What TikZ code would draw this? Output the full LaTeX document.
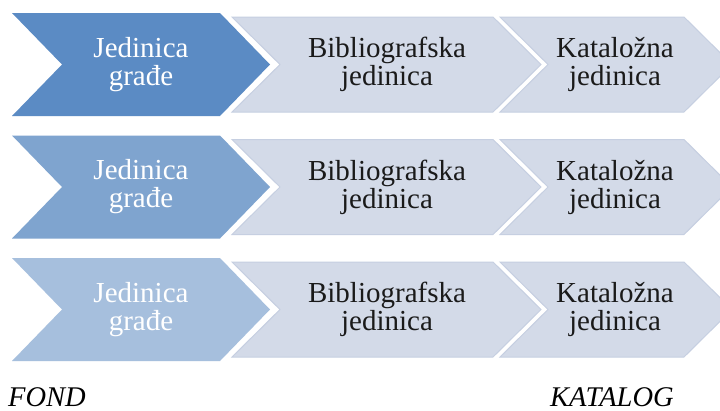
\documentclass[tikz,border=0pt]{standalone}
\usepackage{fontspec}
\setmainfont{Liberation Serif}
\definecolor{darkA}{HTML}{5B8BC4}
\definecolor{darkB}{HTML}{7FA4CF}
\definecolor{darkC}{HTML}{A6BFDD}
\definecolor{lightfill}{HTML}{D3DAE8}
\definecolor{lightline}{HTML}{C6CFE1}
\definecolor{txt}{HTML}{1A1A1A}
\tikzset{
  lightchev/.style={fill=lightfill, draw=lightline, line width=1pt, line join=miter},
  wtext/.style={text=white, align=center, font=\fontsize{29}{28}\selectfont, inner sep=0pt},
  btext/.style={text=txt, align=center, font=\fontsize{29}{28}\selectfont, inner sep=0pt},
  bottomlabel/.style={text=black, anchor=base west, text depth=0pt, font=\fontsize{28.5}{28.5}\selectfont\itshape, inner sep=0pt}
}
\begin{document}
\begin{tikzpicture}[x=1pt,y=-1pt]
\useasboundingbox (0,0) rectangle (720,410);
\fill[white] (0,0) rectangle (720,410);
\begin{scope}
\clip (0,0) rectangle (720,410);
\foreach \r/\c/\col in {1/64.5/darkA, 2/187/darkB, 3/309.5/darkC}{
  \path[lightchev] (232,\c-47.5) -- (493,\c-47.5) -- (541,\c) -- (493,\c+47.5) -- (232,\c+47.5) -- (280,\c) -- cycle;
  \path[lightchev] (500,\c-47.5) -- (684,\c-47.5) -- (732,\c) -- (684,\c+47.5) -- (500,\c+47.5) -- (548,\c) -- cycle;
  \fill[\col] (12,\c-51.5) -- (220,\c-51.5) -- (270,\c) -- (220,\c+51.5) -- (12,\c+51.5) -- (62,\c) -- cycle;
  \node[wtext] (g\r) at (141,\c) {Jedinica\\građe};
  \node[btext] (b\r) at (387,\c) {Bibliografska\\jedinica};
  \node[btext] (k\r) at (615,\c) {Kataložna\\jedinica};
}
\end{scope}
\node[bottomlabel] (fond) at (8,406) {FOND};
\node[bottomlabel] (katalog) at (550,406) {KATALOG};
\end{tikzpicture}
\end{document}
